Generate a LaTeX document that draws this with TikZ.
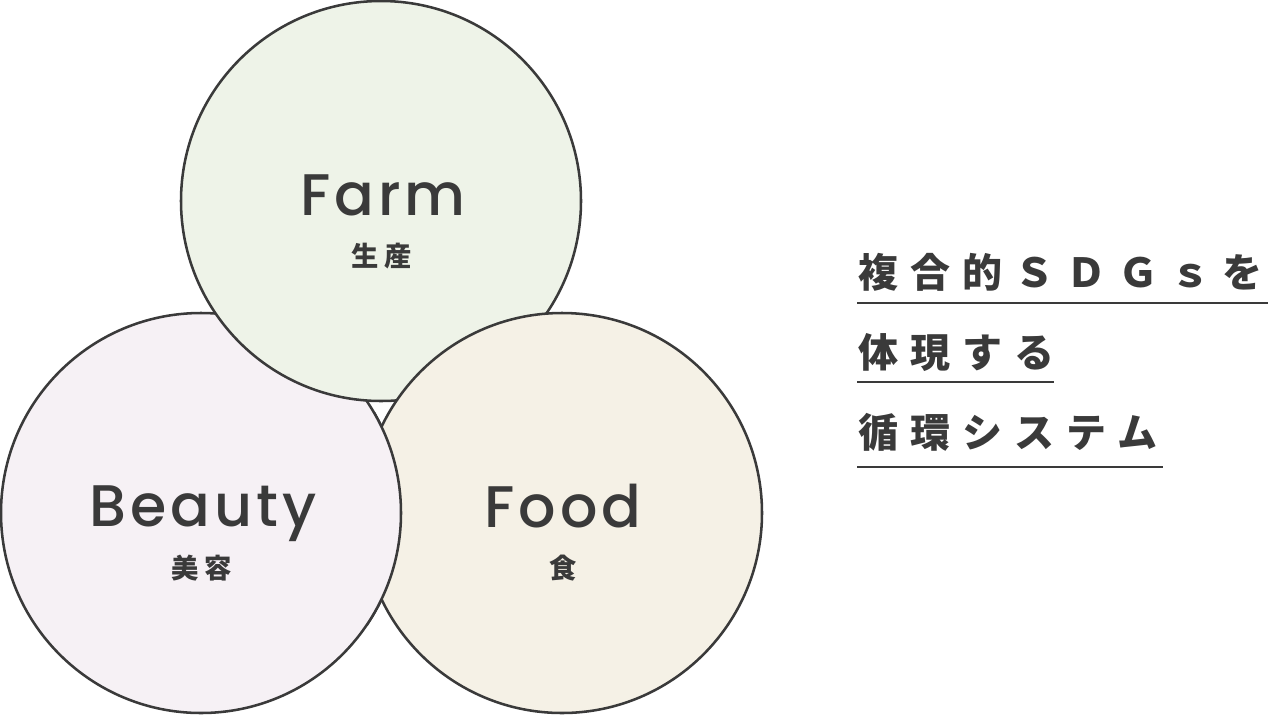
\documentclass[tikz,border=0pt]{standalone}
\usepackage{fontspec}
\usepackage{xcolor}
\setmainfont{Poppins}
\newfontfamily\labelfont[LetterSpace=7]{Poppins Medium}
\newfontfamily\jpfont[LetterSpace=22]{Noto Sans CJK JP}
\newfontfamily\headfont[LetterSpace=30]{Noto Sans CJK JP}

\definecolor{inkgray}{HTML}{3A3A3A}
\definecolor{farmgreen}{HTML}{EEF3E8}
\definecolor{beautypink}{HTML}{F6F1F5}
\definecolor{foodcream}{HTML}{F5F1E6}

\tikzset{
	ring/.style={circle, draw=inkgray, line width=1.9pt, minimum size=300pt, inner sep=0pt},
	enword/.style={anchor=base, text=inkgray, font=\labelfont\fontsize{44}{50}\selectfont},
	jpword/.style={anchor=base, text=inkgray, font=\jpfont\bfseries\fontsize{20.5}{24}\selectfont},
	headline/.style={anchor=base west, text=inkgray, inner sep=0pt, font=\headfont\bfseries\fontsize{30}{36}\selectfont},
	uline/.style={draw=inkgray, line width=1.5pt}
}

\begin{document}
\begin{tikzpicture}[x=0.75pt, y=-0.75pt]

		% Canvas
		\fill[white] (0,0) rectangle (1268,715);
		\useasboundingbox (0,0) rectangle (1268,715);

		% Circles
		\node[ring, fill=beautypink] (beauty) at (201,513) {};
		\node[ring, fill=farmgreen] (farm) at (381,201) {};
		\node[ring, fill=foodcream] (food) at (562,513) {};

		% Beauty lies over Food where they meet
		\begin{scope}
			\clip (335,412) rectangle (430,625);
			\node[ring, fill=beautypink] (beautytop) at (201,513) {};
		\end{scope}

		% Labels
		\node[enword] (farmen) at (383,215) {Farm};
		\node[jpword] (farmjp) at (382,266) {生産};
		\node[enword] (beautyen) at (203,526) {Beauty};
		\node[jpword] (beautyjp) at (202,578) {美容};
		\node[enword] (fooden) at (563,527) {Food};
		\node[jpword] (foodjp) at (563,578) {食};

		% Heading
		\node[headline] (headone) at (858,287) {複合的ＳＤＧｓを};
		\node[headline] (headtwo) at (858,367) {体現する};
		\node[headline] (headthree) at (858,447) {循環システム};
		\draw[uline] (857,303) -- (1268,303);
		\draw[uline] (857,382) -- (1054,382);
		\draw[uline] (857,467) -- (1163,467);

	\end{tikzpicture}
\end{document}
